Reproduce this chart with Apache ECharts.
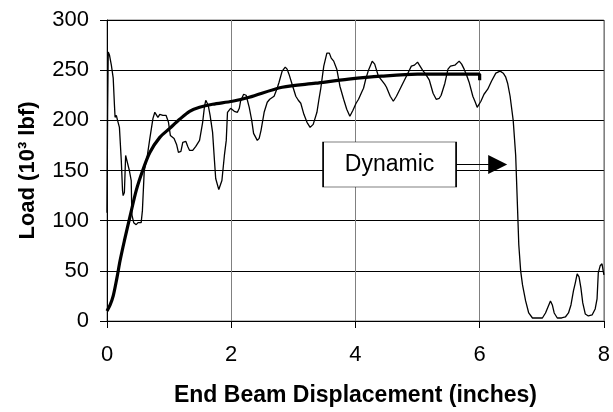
<!DOCTYPE html>
<html>
<head>
<meta charset="utf-8">
<script src="https://cdn.jsdelivr.net/npm/echarts@6/dist/echarts.min.js"></script>
<style>
html,body{margin:0;padding:0;background:#fff;}
#c{width:613px;height:412px;}
</style>
</head>
<body>
<div id="c"></div>
<script>
// Dynamic test record: [displacement (in), load (10^3 lbf)]
const dynamicX = [0.00,0.01,0.02,0.04,0.07,0.10,0.12,0.13,0.15,0.17,0.20,0.23,0.25,0.26,0.28,0.30,0.33,0.36,0.39,0.40,0.43,0.47,0.50,0.55,0.57,0.60,0.65,0.69,0.74,0.77,0.80,0.82,0.85,0.90,0.95,0.99,1.02,1.08,1.12,1.15,1.19,1.22,1.27,1.30,1.33,1.38,1.43,1.49,1.54,1.57,1.59,1.63,1.66,1.70,1.73,1.75,1.80,1.85,1.89,1.92,1.94,1.99,2.05,2.10,2.13,2.15,2.20,2.24,2.29,2.33,2.36,2.38,2.42,2.45,2.48,2.53,2.58,2.62,2.69,2.74,2.77,2.82,2.87,2.90,2.93,2.98,3.04,3.08,3.12,3.17,3.22,3.27,3.32,3.38,3.41,3.44,3.49,3.54,3.58,3.61,3.65,3.70,3.75,3.81,3.86,3.91,3.96,4.01,4.05,4.10,4.13,4.17,4.21,4.27,4.31,4.37,4.42,4.47,4.50,4.56,4.61,4.66,4.70,4.74,4.78,4.82,4.86,4.90,4.95,5.00,5.03,5.08,5.13,5.19,5.25,5.30,5.35,5.38,5.44,5.49,5.53,5.60,5.67,5.71,5.75,5.79,5.83,5.89,5.93,5.96,6.02,6.07,6.13,6.19,6.26,6.33,6.38,6.42,6.45,6.49,6.54,6.58,6.61,6.63,6.66,6.69,6.74,6.79,6.85,6.95,7.01,7.06,7.10,7.14,7.17,7.20,7.25,7.32,7.38,7.43,7.47,7.51,7.54,7.57,7.60,7.63,7.66,7.70,7.75,7.81,7.86,7.89,7.91,7.94,7.97,8.00];
const dynamicY = [108,210,268,265,255,242,215,203,205,200,193,160,130,125,128,165,165,150,140,106,98,96,98,98,110,150,165,182,202,208,209,203,206,205,205,198,185,182,176,168,169,178,179,174,170,170,174,180,198,214,220,215,205,188,160,142,131,140,165,180,208,212,209,208,212,219,226,225,213,200,187,186,180,182,190,208,218,221,224,232,238,249,253,251,246,236,224,220,217,206,198,193,196,208,220,231,254,267,267,262,259,251,234,221,211,204,210,217,221,228,232,242,250,259,256,244,240,236,233,224,219,224,229,234,239,244,249,254,255,258,257,250,246,240,227,221,222,225,237,251,254,255,259,256,251,245,238,224,218,213,219,226,231,239,247,249,247,243,237,224,200,165,112,76,50,36,20,8,3,3,3,8,14,20,16,8,3,3,4,8,16,30,38,47,44,33,18,7,5,6,12,22,48,55,57,46];

// Static (smoothed) curve
const staticX = [0.00,0.05,0.10,0.16,0.21,0.28,0.37,0.47,0.58,0.69,0.85,1.01,1.17,1.33,1.49,1.70,2.02,2.29,2.82,3.36,3.89,4.42,5.00,5.50,6.00,6.00];
const staticY = [10,16,25,43,60,80,104,130,151,168,183,192,201,209,213,216,219,223,233,237,241,244,246,246,246,240];

const xTicks = [0,2,4,6,8];
const yTicks = [0,50,100,150,200,250,300];
const annotationText = 'Dynamic';

const FONT = "'Liberation Sans', Arial, sans-serif";
const pair = (xs, ys) => xs.map((x, i) => [x, ys[i]]);

const chart = echarts.init(document.getElementById('c'), null, {renderer: 'canvas'});
chart.setOption({
  animation: false,
  backgroundColor: '#fff',
  grid: {left: 107, right: 6, top: 20, bottom: 89, containLabel: false, show: true, borderColor: '#808080', borderWidth: 1},
  xAxis: {
    type: 'value', min: xTicks[0], max: xTicks[xTicks.length-1], interval: 2,
    name: 'End Beam Displacement (inches)', nameLocation: 'middle', nameGap: 63,
    nameTextStyle: {fontFamily: FONT, fontSize: 23, fontWeight: 'bold', color: '#000'},
    axisLine: {show: true, onZero: false, lineStyle: {color: '#000', width: 1}},
    axisTick: {show: true, length: 7, lineStyle: {color: '#000'}},
    axisLabel: {fontFamily: FONT, fontSize: 22, color: '#000', margin: 23},
    splitLine: {show: true, lineStyle: {color: '#808080', width: 1}}
  },
  yAxis: {
    type: 'value', min: yTicks[0], max: yTicks[yTicks.length-1], interval: 50,
    name: 'Load (10³ lbf)', nameLocation: 'middle', nameGap: 68, nameRotate: 90,
    nameTextStyle: {fontFamily: FONT, fontSize: 22, fontWeight: 'bold', color: '#000'},
    axisLine: {show: true, onZero: false, lineStyle: {color: '#000', width: 1}},
    axisTick: {show: true, length: 7, lineStyle: {color: '#000'}},
    axisLabel: {fontFamily: FONT, fontSize: 22, color: '#000', margin: 18},
    splitLine: {show: true, lineStyle: {color: '#000', width: 1}}
  },
  series: [
    {
      type: 'line', data: pair(dynamicX, dynamicY), showSymbol: false, symbol: 'none',
      lineStyle: {color: '#000', width: 1.3}, z: 3,
      markPoint: {
        silent: true, symbol: 'rect', symbolSize: [133, 45],
        itemStyle: {color: '#fff', borderColor: '#000', borderWidth: 1},
        label: {show: true, position: 'inside', formatter: annotationText, fontFamily: FONT, fontSize: 23, color: '#000'},
        data: [{coord: [4.55, 156]}]
      },
      markLine: {
        silent: true, symbol: ['none', 'triangle'], symbolSize: [19, 19],
        label: {show: false},
        lineStyle: {color: '#000', width: 1, type: 'solid'},
        data: [[{coord: [5.62, 156]}, {coord: [6.29, 156]}]]
      }
    },
    {
      type: 'line', data: pair(staticX, staticY), showSymbol: false, symbol: 'none', smooth: 0.3,
      lineStyle: {color: '#000', width: 3.2}, z: 4
    }
  ]
});
</script>
</body>
</html>
